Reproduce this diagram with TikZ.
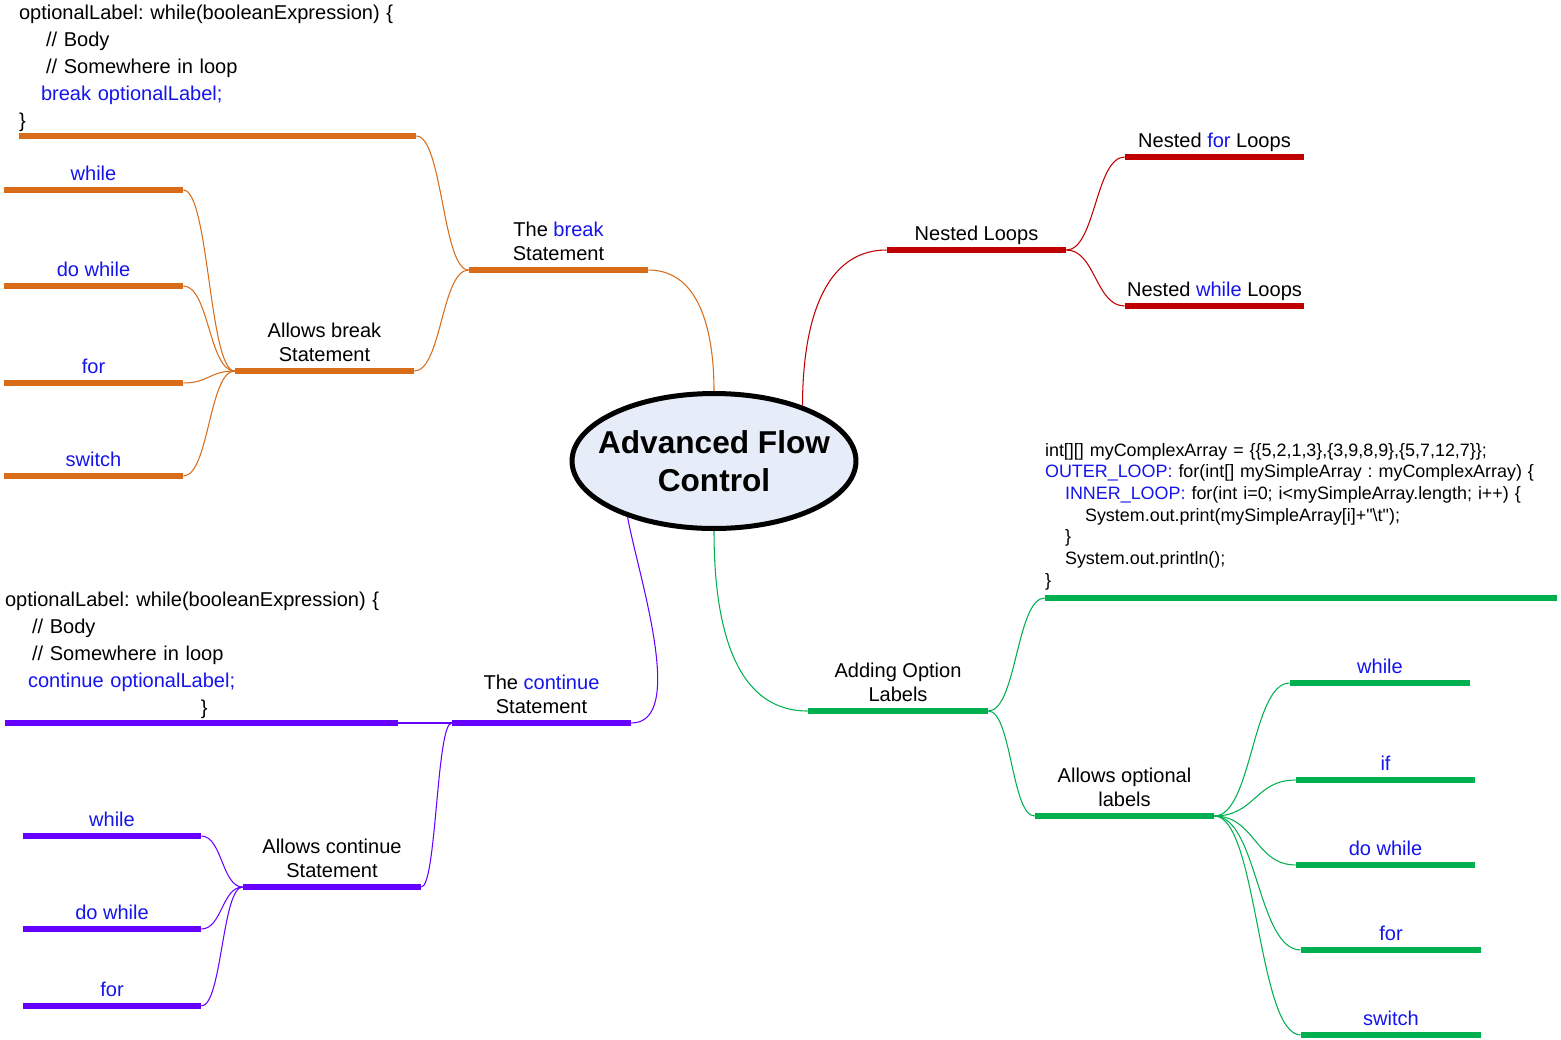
\documentclass[tikz,border=0pt]{standalone}
\usepackage{fontspec}
\setmainfont{Liberation Sans}
\usepackage{xcolor}
\usepackage{tikz}
\usetikzlibrary{positioning,shapes,calc}
\definecolor{branchorange}{RGB}{217,108,24}
\definecolor{branchred}{RGB}{192,0,0}
\definecolor{branchpurple}{RGB}{102,0,255}
\definecolor{branchgreen}{RGB}{0,176,80}
\definecolor{hubfill}{RGB}{230,237,248}
\definecolor{keyblue}{RGB}{20,20,235}

\begin{document}
\begin{tikzpicture}[x=0.02cm, y=-0.02cm, node distance=2cm]
    \tikzstyle{hub} = [ellipse, draw=black, line width=2.85pt, fill=hubfill, minimum width=5.68cm, minimum height=2.7cm, inner sep=0pt, align=center, font=\bfseries\fontsize{18}{21.6}\selectfont]
    \tikzstyle{topic} = [anchor=south, minimum width=3.58cm, inner xsep=0pt, inner ysep=3pt, text height=8.2pt, text depth=2pt, align=center, font=\fontsize{11.4}{13.7}\selectfont]
    \tikzstyle{leaf} = [topic, text=keyblue]
    \tikzstyle{code} = [anchor=south, inner xsep=0pt, inner ysep=2.4pt, align=left, font=\frenchspacing\fontsize{11.4}{15.4}\selectfont]
    \tikzstyle{bar} = [line width=0.11cm]
    \tikzstyle{spoke} = [line width=0.6pt]
    \tikzstyle{link} = [line width=0.6pt, to path={let \p1=(\tikztostart), \p2=(\tikztotarget) in .. controls ({(\x1+\x2)/2},\y1) and ({(\x1+\x2)/2},\y2) .. (\tikztotarget)}]

    \useasboundingbox (0,0) rectangle (1561,1039);

    % Centre
    \node [hub] (afc) at (714,461) {\makebox[0pt]{Advanced Flow}\\\makebox[0pt]{Control}};

    % The break statement
    \node [topic] (thebrk) at (558.5,270) {The \textcolor{keyblue}{break}\\Statement};
    \node [code, text width=7.94cm] (brkcode) at (217.5,136) {optionalLabel: while(booleanExpression) \{\\
        \hspace*{0.54cm}// Body\\
        \hspace*{0.54cm}// Somewhere in loop\\
        \hspace*{0.44cm}\textcolor{keyblue}{break optionalLabel;}\\
        \}};
    \node [topic] (allowbrk) at (324.5,371) {Allows break\\Statement};
    \node [leaf] (bwhile) at (93.5,190) {while};
    \node [leaf, node distance=1.92cm, below of=bwhile] (bdowhile) {do while};
    \node [leaf, node distance=1.94cm, below of=bdowhile] (bfor) {for};
    \node [leaf, node distance=1.86cm, below of=bfor] (bswitch) {switch};

    % Nested loops
    \node [topic] (nested) at (976.5,250) {Nested Loops};
    \node [topic] (nfor) at (1214.5,157) {Nested \textcolor{keyblue}{for} Loops};
    \node [topic, node distance=2.98cm, below of=nfor] (nwhile) {Nested \textcolor{keyblue}{while} Loops};

    % The continue statement
    \node [topic] (cont) at (541.5,723) {The \textcolor{keyblue}{continue}\\Statement};
    \node [code, text width=7.86cm] (contcode) at (201.5,723) {optionalLabel: while(booleanExpression) \{\\
        \hspace*{0.54cm}// Body\\
        \hspace*{0.54cm}// Somewhere in loop\\
        \hspace*{0.46cm}\textcolor{keyblue}{continue optionalLabel;}\\
        \hspace*{3.92cm}\}};
    \node [topic, minimum width=3.56cm] (allowcont) at (332,887) {Allows continue\\Statement};
    \node [leaf, minimum width=3.56cm] (cwhile) at (112,836) {while};
    \node [leaf, minimum width=3.56cm, node distance=1.86cm, below of=cwhile] (cdowhile) {do while};
    \node [leaf, minimum width=3.56cm, node distance=1.54cm, below of=cdowhile] (cfor) {for};

    % Adding option labels
    \node [topic, minimum width=3.6cm] (addopt) at (898,711) {Adding Option\\Labels};
    \node [code, text width=10.24cm, inner ysep=4.5pt, font=\frenchspacing\fontsize{10.2}{12.3}\selectfont] (optcode) at (1301,598) {int[][] myComplexArray = \{\{5,2,1,3\},\{3,9,8,9\},\{5,7,12,7\}\};\\
        \textcolor{keyblue}{OUTER\_LOOP:} for(int[] mySimpleArray : myComplexArray) \{\\
        \hspace*{0.4cm}\textcolor{keyblue}{INNER\_LOOP:} for(int i=0; i<mySimpleArray.length; i++) \{\\
        \hspace*{0.8cm}System.out.print(mySimpleArray[i]+\textquotedbl\textbackslash t\textquotedbl);\\
        \hspace*{0.4cm}\}\\
        \hspace*{0.4cm}System.out.println();\\
        \}};
    \node [topic] (allowopt) at (1124.5,816) {Allows optional\\labels};
    \node [leaf, minimum width=3.6cm] (owhile) at (1380,683) {while};
    \node [leaf, node distance=1.94cm, below of=owhile, xshift=0.11cm] (oif) {if};
    \node [leaf, node distance=1.7cm, below of=oif] (odowhile) {do while};
    \node [leaf, minimum width=3.6cm, node distance=1.7cm, below of=odowhile, xshift=0.11cm] (ofor) {for};
    \node [leaf, minimum width=3.6cm, node distance=1.7cm, below of=ofor] (oswitch) {switch};

    % Bars
    \foreach \k in {thebrk, brkcode, allowbrk, bwhile, bdowhile, bfor, bswitch}
        \draw [bar, branchorange] (\k.south west) -- (\k.south east);
    \foreach \k in {nested, nfor, nwhile}
        \draw [bar, branchred] (\k.south west) -- (\k.south east);
    \foreach \k in {cont, contcode, allowcont, cwhile, cdowhile, cfor}
        \draw [bar, branchpurple] (\k.south west) -- (\k.south east);
    \foreach \k in {addopt, optcode, allowopt, owhile, oif, odowhile, ofor, oswitch}
        \draw [bar, branchgreen] (\k.south west) -- (\k.south east);

    % Links
    \draw [spoke, branchorange] (thebrk.south east) to [out=0, in=90] (afc.north);
    \draw [link, branchorange] (thebrk.south west) to (brkcode.south east);
    \draw [link, branchorange] (thebrk.south west) to (allowbrk.south east);
    \foreach \k in {bwhile, bdowhile, bfor, bswitch}
        \draw [link, branchorange] (allowbrk.south west) to (\k.south east);

    \draw [spoke, branchred] (afc.32) to [out=90, in=180] (nested.south west);
    \foreach \k in {nfor, nwhile}
        \draw [link, branchred] (nested.south east) to (\k.south west);

    \draw [spoke, branchpurple] (afc.-147) to [out=-80, in=0, looseness=0.7] (cont.south east);
    \draw [link, branchpurple] (cont.south west) to (contcode.south east);
    \draw [link, branchpurple] (cont.south west) to (allowcont.south east);
    \foreach \k in {cwhile, cdowhile, cfor}
        \draw [link, branchpurple] (allowcont.south west) to (\k.south east);

    \draw [spoke, branchgreen] (afc.south) to [out=-90, in=180] (addopt.south west);
    \draw [link, branchgreen] (addopt.south east) to (optcode.south west);
    \draw [link, branchgreen] (addopt.south east) to (allowopt.south west);
    \foreach \k in {owhile, oif, odowhile, ofor, oswitch}
        \draw [link, branchgreen] (allowopt.south east) to (\k.south west);
\end{tikzpicture}
\end{document}
